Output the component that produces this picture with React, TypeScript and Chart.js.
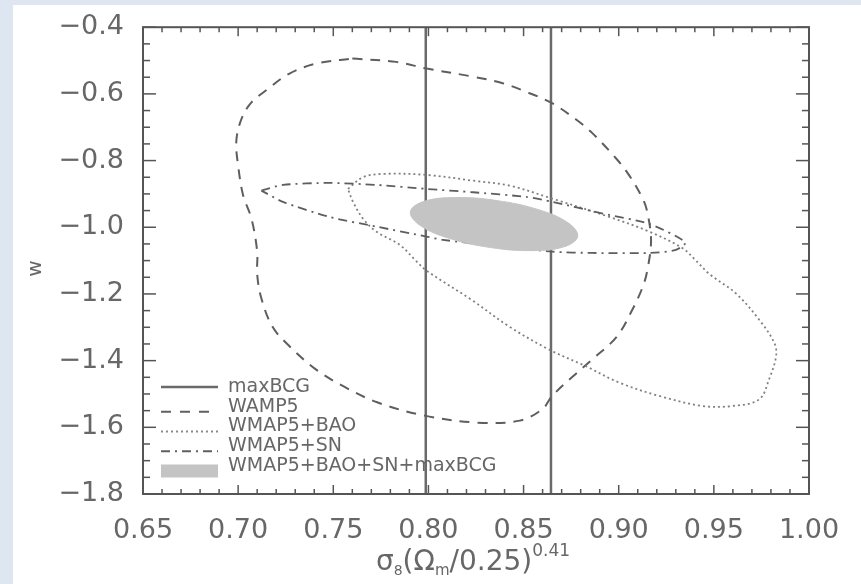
import React, { useEffect, useRef } from "react";
import { Chart, registerables } from "chart.js";

Chart.register(...registerables);

// ---- axes ----
const xMin = 0.65;
const xMax = 1.0;
const xStep = 0.05;
const xMinorStep = 0.01;
const yMin = -1.8;
const yMax = -0.4;
const yStep = 0.2;
const yMinorStep = 0.05;

// ---- maxBCG (two vertical lines) ----
const maxbcgX = [0.7986, 0.8644];
const maxbcgY = [-1.8, -0.4];

// ---- WMAP5 (dashed) ----
const wmap5X = [0.760, 0.783, 0.799, 0.823, 0.839, 0.851, 0.865, 0.8776, 0.886, 0.899, 0.9056, 0.9126, 0.915, 0.917, 0.915, 0.9126, 0.907, 0.899, 0.886, 0.876, 0.865, 0.860, 0.848, 0.826, 0.798, 0.773, 0.755, 0.741, 0.727, 0.718, 0.712, 0.710, 0.710, 0.707, 0.7026, 0.700, 0.699, 0.701, 0.706, 0.715, 0.727, 0.741, 0.760];
const wmap5Y = [-0.494, -0.504, -0.524, -0.548, -0.568, -0.593, -0.628, -0.677, -0.717, -0.796, -0.845, -0.914, -0.954, -1.040, -1.130, -1.179, -1.249, -1.328, -1.397, -1.447, -1.506, -1.545, -1.580, -1.586, -1.565, -1.525, -1.476, -1.427, -1.357, -1.298, -1.209, -1.140, -1.073, -0.974, -0.904, -0.815, -0.746, -0.687, -0.632, -0.588, -0.539, -0.509, -0.494];

// ---- WMAP5+BAO (dotted) ----
const baoX = [0.7577, 0.7656, 0.776, 0.799, 0.823, 0.8425, 0.865, 0.895, 0.916, 0.9336, 0.9406, 0.9476, 0.9617, 0.9739, 0.9818, 0.9827, 0.979, 0.9739, 0.960, 0.944, 0.9213, 0.9003, 0.8828, 0.8635, 0.8425, 0.823, 0.799, 0.793, 0.785, 0.7726, 0.7656, 0.7604, 0.7577];
const baoY = [-0.885, -0.850, -0.840, -0.843, -0.860, -0.875, -0.914, -0.969, -1.013, -1.063, -1.100, -1.140, -1.199, -1.278, -1.347, -1.387, -1.456, -1.516, -1.536, -1.536, -1.506, -1.466, -1.417, -1.367, -1.298, -1.219, -1.130, -1.098, -1.053, -1.013, -0.974, -0.924, -0.885];

// ---- WMAP5+SN (dash-dot) ----
const snX = [0.7122, 0.7236, 0.748, 0.7726, 0.799, 0.8234, 0.8513, 0.8653, 0.8916, 0.916, 0.935, 0.930, 0.916, 0.8863, 0.8653, 0.8077, 0.799, 0.7726, 0.748, 0.7236, 0.7122];
const snY = [-0.890, -0.873, -0.867, -0.873, -0.885, -0.895, -0.909, -0.924, -0.959, -0.990, -1.045, -1.068, -1.077, -1.077, -1.073, -1.038, -1.028, -0.998, -0.969, -0.924, -0.890];

// ---- WMAP5+BAO+SN+maxBCG (filled region; outline wraps past its start so the curve closes smoothly) ----
const combX = [0.8735, 0.8784, 0.8716, 0.8548, 0.8326, 0.8109, 0.7955, 0.7905, 0.7974, 0.8141, 0.8363, 0.8581, 0.8735, 0.8784, 0.8716];
const combY = [-0.9872, -1.0273, -1.0579, -1.0700, -1.0608, -1.0332, -0.9938, -0.9537, -0.9231, -0.9110, -0.9202, -0.9478, -0.9872, -1.0273, -1.0579];

const legendLabels = ["maxBCG", "WAMP5", "WMAP5+BAO", "WMAP5+SN", "WMAP5+BAO+SN+maxBCG"];
const yAxisTitle = "w";

const FONT = "'DejaVu Sans', sans-serif";
const TEXT = "#676767";
const FRAME = "#555555";

const pts = (xs: number[], ys: number[]) => xs.map((x, i) => ({ x, y: ys[i] }));

const decorPlugin = {
  id: "decor",
  afterDatasetsDraw(chart: any) {
    const { ctx, chartArea: a, scales } = chart;
    const xs = scales.x;
    const ys = scales.y;
    ctx.save();
    ctx.strokeStyle = FRAME;
    ctx.lineWidth = 1.5;
    const line = (x1: number, y1: number, x2: number, y2: number) => {
      ctx.beginPath();
      ctx.moveTo(x1, y1);
      ctx.lineTo(x2, y2);
      ctx.stroke();
    };
    const nx = Math.round((xMax - xMin) / xMinorStep);
    const per = Math.round(xStep / xMinorStep);
    for (let i = 0; i <= nx; i++) {
      const px = xs.getPixelForValue(xMin + i * xMinorStep);
      const len = i % per === 0 ? 9 : 5;
      line(px, a.bottom, px, a.bottom - len);
      line(px, a.top, px, a.top + len);
    }
    const ny = Math.round((yMax - yMin) / yMinorStep);
    const pery = Math.round(yStep / yMinorStep);
    for (let i = 0; i <= ny; i++) {
      const py = ys.getPixelForValue(yMin + i * yMinorStep);
      const len = i % pery === 0 ? 13 : 7;
      line(a.left, py, a.left + len, py);
      line(a.right, py, a.right - len, py);
    }
    ctx.lineWidth = 2;
    ctx.strokeRect(a.left, a.top, a.right - a.left, a.bottom - a.top);
    ctx.restore();
  },
  afterDraw(chart: any) {
    const { ctx, chartArea: a } = chart;
    ctx.save();
    // legend
    const x0 = a.left + 18;
    const x1 = a.left + 75;
    const tx = a.left + 85;
    ctx.font = `19px ${FONT}`;
    ctx.textBaseline = "middle";
    ctx.textAlign = "left";
    const styles = [
      { dash: [] as number[], color: "#6a6a6a", w: 2.5 },
      { dash: [10, 9], color: "#606060", w: 2 },
      { dash: [2, 3], color: "#8a8a8a", w: 1.8 },
      { dash: [9, 5, 2, 5], color: "#606060", w: 1.8 },
    ];
    legendLabels.forEach((lab, i) => {
      const ty = a.bottom - 107 + i * 19.75;
      const sy = ty + (i === 0 ? 0 : 5);
      if (i < 4) {
        const s = styles[i];
        ctx.strokeStyle = s.color;
        ctx.lineWidth = s.w;
        ctx.setLineDash(s.dash);
        ctx.beginPath();
        ctx.moveTo(x0, sy);
        ctx.lineTo(x1, sy);
        ctx.stroke();
        ctx.setLineDash([]);
      } else {
        ctx.fillStyle = "#c4c4c4";
        ctx.fillRect(x0, sy - 6.5, x1 - x0, 13);
      }
      ctx.fillStyle = TEXT;
      ctx.fillText(lab, tx, ty);
    });

    // x-axis title: sigma_8 (Omega_m / 0.25)^0.41
    const parts = [
      { t: "σ", s: 28, dy: 0 },
      { t: "8", s: 14, dy: 5 },
      { t: "(Ω", s: 28, dy: 0 },
      { t: "m", s: 15, dy: 5 },
      { t: "/0.25)", s: 28, dy: 0 },
      { t: "0.41", s: 17, dy: -14 },
    ];
    ctx.textBaseline = "alphabetic";
    let total = 0;
    parts.forEach((p) => {
      ctx.font = `${p.s}px ${FONT}`;
      total += ctx.measureText(p.t).width;
    });
    let cx = (a.left + a.right) / 2 - 3 - total / 2;
    const base = a.bottom + 76;
    ctx.fillStyle = TEXT;
    parts.forEach((p) => {
      ctx.font = `${p.s}px ${FONT}`;
      ctx.fillText(p.t, cx, base + p.dy);
      cx += ctx.measureText(p.t).width;
    });

    // y-axis title
    ctx.translate(36, (a.top + a.bottom) / 2 + 8);
    ctx.rotate(-Math.PI / 2);
    ctx.textAlign = "center";
    ctx.textBaseline = "middle";
    ctx.font = `20px ${FONT}`;
    ctx.fillText(yAxisTitle, 0, 0);
    ctx.restore();
  },
};

export default function App() {
  const ref = useRef<HTMLCanvasElement | null>(null);
  useEffect(() => {
    if (!ref.current) return;
    Chart.defaults.font.family = FONT;
    const chart = new Chart(ref.current, {
      type: "scatter",
      data: {
        datasets: [
          {
            label: legendLabels[4],
            data: pts(combX, combY),
            showLine: true,
            fill: "shape",
            backgroundColor: "#c4c4c4",
            borderColor: "#c4c4c4",
            borderWidth: 1,
            pointRadius: 0,
            tension: 0.4,
            order: 0,
          },
          ...maxbcgX.map((mx) => ({
            label: legendLabels[0],
            data: maxbcgY.map((y) => ({ x: mx, y })),
            showLine: true,
            borderColor: "#6a6a6a",
            borderWidth: 2.5,
            pointRadius: 0,
            order: 4,
          })),
          {
            label: legendLabels[1],
            data: pts(wmap5X, wmap5Y),
            showLine: true,
            borderColor: "#5e5e5e",
            borderWidth: 2,
            borderDash: [10, 8],
            pointRadius: 0,
            tension: 0.35,
            order: 3,
          },
          {
            label: legendLabels[2],
            data: pts(baoX, baoY),
            showLine: true,
            borderColor: "#808080",
            borderWidth: 1.8,
            borderDash: [2, 3],
            pointRadius: 0,
            tension: 0.35,
            order: 2,
          },
          {
            label: legendLabels[3],
            data: pts(snX, snY),
            showLine: true,
            borderColor: "#5e5e5e",
            borderWidth: 1.8,
            borderDash: [9, 5, 2, 5],
            pointRadius: 0,
            tension: 0.25,
            order: 1,
          },
        ] as any,
      },
      options: {
        animation: false,
        responsive: false,
        devicePixelRatio: 1,
        layout: {
          autoPadding: false,
          padding: { left: 0, top: 22, right: 52, bottom: 0 },
        },
        plugins: {
          legend: { display: false },
          tooltip: { enabled: false },
        },
        scales: {
          x: {
            type: "linear",
            min: xMin,
            max: xMax,
            grid: { display: false },
            border: { display: false },
            ticks: {
              stepSize: xStep,
              color: TEXT,
              padding: 13,
              font: { size: 27, family: FONT },
              maxRotation: 0,
              callback: (v: any) => Number(v).toFixed(2),
            },
            afterFit: (s: any) => {
              s.height = 90;
            },
          },
          y: {
            type: "linear",
            min: yMin,
            max: yMax,
            grid: { display: false },
            border: { display: false },
            ticks: {
              stepSize: yStep,
              color: TEXT,
              padding: 11,
              font: { size: 27, family: FONT },
              callback: (v: any) => {
                const n = Number(v);
                return (n < 0 ? "\u2212" : "") + Math.abs(n).toFixed(1);
              },
            },
            afterFit: (s: any) => {
              s.width = 143;
            },
          },
        },
      },
      plugins: [decorPlugin],
    } as any);
    return () => chart.destroy();
  }, []);

  return (
    <div
      style={{
        position: "fixed",
        left: 0,
        top: 0,
        width: 861,
        height: 584,
        background: "#dde6f1",
        overflow: "hidden",
      }}
    >
      <div
        style={{
          position: "absolute",
          left: 13,
          top: 5,
          right: 0,
          bottom: 0,
          background: "#ffffff",
        }}
      />
      <canvas
        ref={ref}
        width={861}
        height={584}
        style={{ position: "absolute", left: 0, top: 0, width: 861, height: 584 }}
      />
    </div>
  );
}
